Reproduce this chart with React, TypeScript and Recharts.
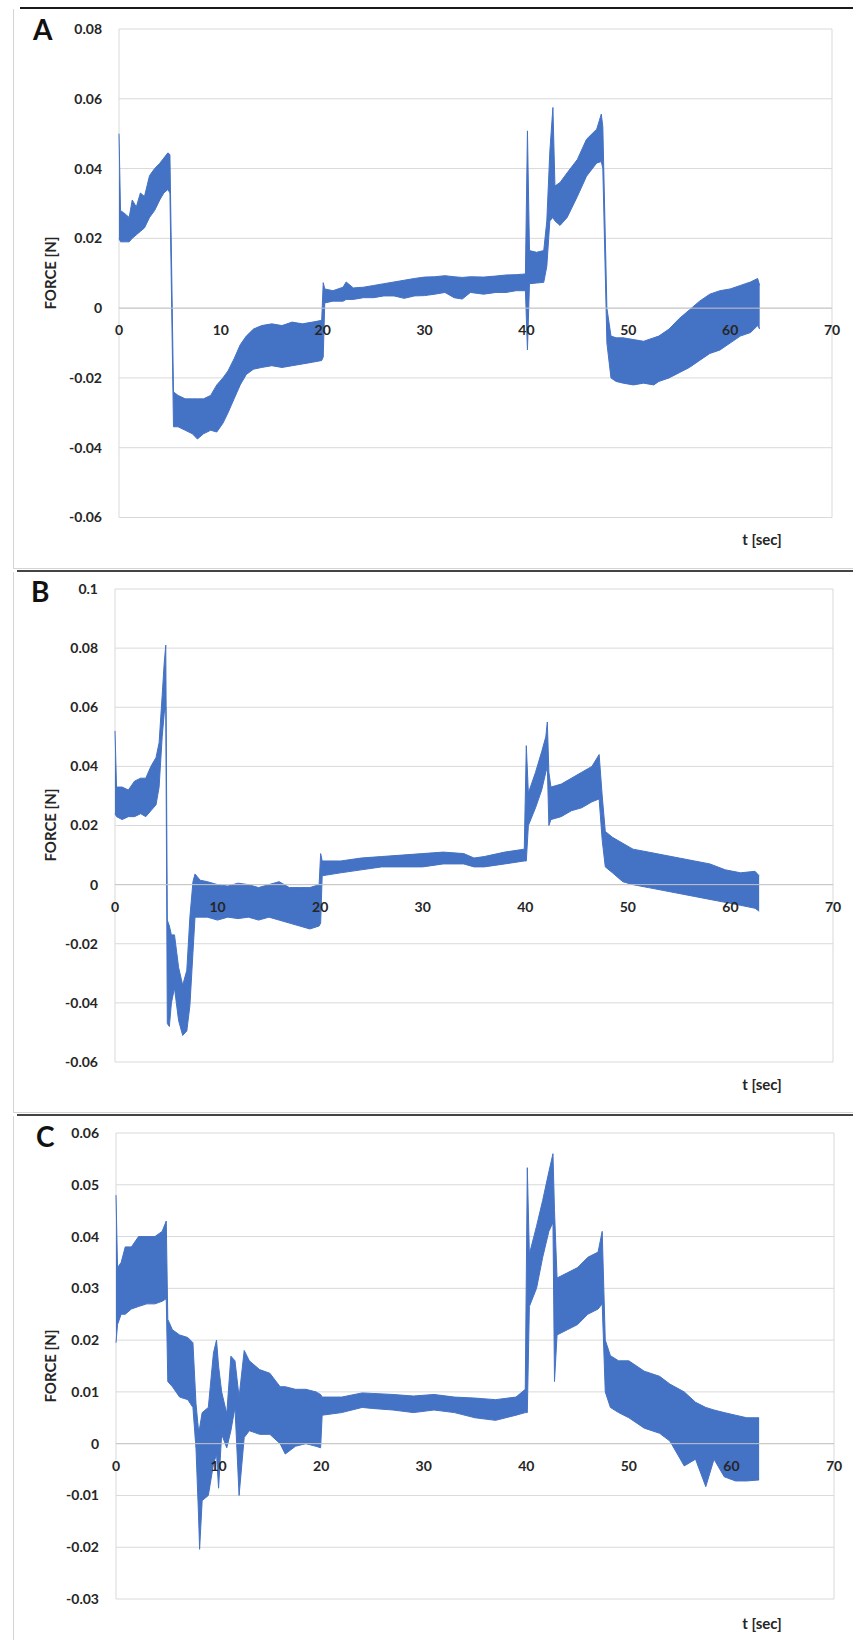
import React from "react";
import {
  ComposedChart,
  Area,
  XAxis,
  YAxis,
  CartesianGrid,
  ReferenceLine,
  ReferenceDot,
} from "recharts";

const BLUE = "#4472C4";
const GRID = "#d9d9d9";
const INK = "#262626";
const FONT = "Lato, 'Open Sans', sans-serif";

const xTicks = [0, 10, 20, 30, 40, 50, 60, 70];

// ---- A: force envelope (low / high edge of the noisy trace) ----
const timeA = [
  0, 0.15, 0.6, 1.0, 1.3, 1.7, 2.1, 2.5, 3.0, 3.5, 4.0, 4.4, 4.8, 5.0, 5.35, 5.8, 6.5, 7.2, 7.7, 8.3, 9.0, 9.6,
  10.2, 10.7, 11.3, 11.9, 12.5, 13.2, 14, 15, 16, 17, 18, 19, 19.9, 20.05, 20.2, 21, 22, 22.3, 23, 24, 25, 26,
  27, 28, 29, 30, 31, 32, 32.9, 33.7, 34.5, 35.8, 37, 38, 39, 39.9, 40.1, 40.3, 41, 41.7, 42.0, 42.3, 42.6,
  42.8, 43.3, 44.0, 45.0, 45.9, 46.9, 47.35, 47.5, 47.9, 48.3, 48.8, 49.5, 50.5, 51.5, 52.5, 53, 54, 55, 56,
  57, 58, 59, 60, 61, 62, 62.7, 62.9,
];
const lowA = [
  0.02, 0.019, 0.019, 0.019, 0.02, 0.021, 0.022, 0.023, 0.026, 0.028, 0.031, 0.033, 0.034, 0.033, -0.034,
  -0.034, -0.035, -0.036, -0.0375, -0.036, -0.035, -0.0355, -0.033, -0.03, -0.026, -0.022, -0.019, -0.0175,
  -0.017, -0.0165, -0.017, -0.0165, -0.016, -0.0155, -0.015, -0.014, 0.0015, 0.002, 0.002, 0.0025, 0.0025,
  0.003, 0.003, 0.0035, 0.0035, 0.0028, 0.0035, 0.0036, 0.004, 0.0045, 0.003, 0.0026, 0.0045, 0.004, 0.0045,
  0.0045, 0.005, 0.005, -0.012, 0.007, 0.0072, 0.0074, 0.012, 0.025, 0.026, 0.025, 0.0237, 0.026, 0.032,
  0.0378, 0.0416, 0.042, 0.04, -0.01, -0.02, -0.021, -0.0215, -0.022, -0.0215, -0.022, -0.021, -0.02,
  -0.0185, -0.017, -0.015, -0.013, -0.012, -0.01, -0.008, -0.007, -0.005, -0.006,
];
const highA = [
  0.05, 0.028, 0.027, 0.026, 0.031, 0.029, 0.033, 0.032, 0.038, 0.04, 0.0415, 0.043, 0.0445, 0.044, -0.024,
  -0.025, -0.026, -0.026, -0.026, -0.026, -0.025, -0.022, -0.02, -0.018, -0.0145, -0.0105, -0.008, -0.006,
  -0.005, -0.0045, -0.005, -0.004, -0.0045, -0.004, -0.0035, 0.0073, 0.0055, 0.005, 0.006, 0.0075, 0.0058,
  0.006, 0.0065, 0.007, 0.0075, 0.008, 0.0085, 0.0089, 0.009, 0.0093, 0.009, 0.0088, 0.009, 0.0089, 0.0092,
  0.0095, 0.0096, 0.0098, 0.0508, 0.0165, 0.016, 0.0165, 0.025, 0.045, 0.0575, 0.035, 0.036, 0.0388, 0.0426,
  0.0484, 0.0513, 0.0556, 0.052, 0.0, -0.008, -0.0085, -0.0085, -0.009, -0.0095, -0.0085, -0.008, -0.006,
  -0.003, -0.0005, 0.002, 0.004, 0.005, 0.0055, 0.0065, 0.0075, 0.0085, 0.0065,
];
const yTicksA = [-0.06, -0.04, -0.02, 0, 0.02, 0.04, 0.06, 0.08];

// ---- B ----
const timeB = [
  0, 0.15, 0.7, 1.3, 1.9, 2.5, 3.0, 3.5, 4.0, 4.3, 4.6, 4.8, 4.95, 5.1, 5.3, 5.5, 5.8, 6.2, 6.6, 7.0, 7.3, 7.6,
  7.8, 8.3, 9, 10, 11, 12, 13, 14, 15, 16, 17, 18, 19, 19.9, 20.05, 20.2, 22, 24, 26, 28, 30, 32, 34, 35, 36,
  38, 39.9, 40.1, 40.3, 41.0, 41.6, 42.0, 42.15, 42.3, 42.5, 43.5, 44.5, 45.5, 46.5, 47.2, 47.5, 47.8, 48.5,
  49.5, 50.5, 52, 53.5, 55, 56.5, 58, 59.5, 61, 62.4, 62.8,
];
const lowB = [
  0.024, 0.023, 0.022, 0.023, 0.023, 0.024, 0.023, 0.025, 0.027, 0.033, 0.05, 0.058, 0.06, -0.047, -0.048,
  -0.04, -0.035, -0.046, -0.051, -0.0495, -0.041, -0.023, -0.011, -0.011, -0.011, -0.012, -0.011, -0.0115,
  -0.011, -0.012, -0.011, -0.012, -0.013, -0.014, -0.015, -0.014, -0.013, 0.003, 0.004, 0.005, 0.006, 0.006,
  0.006, 0.007, 0.007, 0.006, 0.006, 0.007, 0.008, 0.008, 0.02, 0.026, 0.032, 0.038, 0.04, 0.02, 0.022, 0.023,
  0.025, 0.026, 0.028, 0.029, 0.015, 0.006, 0.004, 0.001, 0.0, -0.001, -0.002, -0.003, -0.004, -0.005, -0.006,
  -0.007, -0.008, -0.009,
];
const highB = [
  0.052, 0.033, 0.033, 0.032, 0.035, 0.036, 0.036, 0.04, 0.043, 0.048, 0.064, 0.075, 0.081, -0.012, -0.014,
  -0.017, -0.017, -0.028, -0.034, -0.029, -0.011, 0.001, 0.0036, 0.0015, 0.001, 0.0, -0.0005, 0.0005, 0.0,
  -0.001, 0.0, 0.001, -0.001, -0.001, -0.001, 0.0, 0.0105, 0.008, 0.008, 0.009, 0.0095, 0.01, 0.0105, 0.011,
  0.0105, 0.009, 0.0095, 0.011, 0.012, 0.047, 0.031, 0.038, 0.045, 0.05, 0.055, 0.038, 0.033, 0.034, 0.036,
  0.038, 0.04, 0.044, 0.03, 0.018, 0.016, 0.014, 0.012, 0.011, 0.01, 0.009, 0.008, 0.007, 0.005, 0.004,
  0.0045, 0.003,
];
const yTicksB = [-0.06, -0.04, -0.02, 0, 0.02, 0.04, 0.06, 0.08, 0.1];

// ---- C ----
const timeC = [
  0, 0.15, 0.5, 0.9, 1.5, 2.2, 3.0, 3.8, 4.5, 4.9, 5.05, 5.5, 6.2, 7.0, 7.5, 7.8, 8.05, 8.15, 8.4, 9.0, 9.5,
  9.8, 10.0, 10.3, 10.8, 11.2, 11.6, 12.0, 12.5, 13, 14, 15, 16, 16.5, 17.5, 18.5, 19.5, 19.95, 20.1, 22, 24,
  25, 27, 29, 31, 33, 35, 37, 39, 39.9, 40.1, 40.3, 41.0, 41.6, 42.2, 42.6, 42.75, 43.0, 44, 45, 46, 47.0,
  47.4, 47.7, 48.2, 49, 50, 51.5, 53, 54, 55.4, 56.5, 57.5, 58.3, 59.3, 60.4, 61.5, 62.7,
];
const lowC = [
  0.0195, 0.023, 0.025, 0.025, 0.026, 0.0265, 0.027, 0.027, 0.0275, 0.028, 0.012, 0.011, 0.009, 0.0085,
  0.007, -0.001, -0.014, -0.0204, -0.011, -0.01, -0.004, -0.002, -0.0086, 0.0018, -0.0008, 0.0025, 0.007,
  -0.01, 0.0012, 0.0025, 0.0018, 0.0018, 0.0, -0.002, -0.0005, 0.0, -0.0005, -0.0008, 0.0055, 0.006, 0.007,
  0.0068, 0.0065, 0.006, 0.0065, 0.006, 0.005, 0.0045, 0.0055, 0.006, 0.006, 0.0265, 0.03, 0.036, 0.041,
  0.0427, 0.012, 0.021, 0.022, 0.023, 0.025, 0.026, 0.027, 0.01, 0.007, 0.006, 0.005, 0.003, 0.002, 0.0005,
  -0.0043, -0.003, -0.0083, -0.003, -0.0064, -0.0072, -0.0072, -0.007,
];
const highC = [
  0.048, 0.034, 0.035, 0.038, 0.038, 0.04, 0.04, 0.04, 0.041, 0.043, 0.024, 0.022, 0.021, 0.0205, 0.0195,
  0.0077, 0.0025, 0.003, 0.006, 0.007, 0.0175, 0.02, 0.015, 0.01, 0.0058, 0.0169, 0.016, 0.009, 0.018, 0.016,
  0.0143, 0.0136, 0.011, 0.011, 0.0105, 0.0105, 0.01, 0.0095, 0.009, 0.009, 0.0098, 0.0097, 0.0095, 0.0092,
  0.0095, 0.009, 0.0088, 0.0085, 0.009, 0.0105, 0.0533, 0.0366, 0.042, 0.047, 0.0525, 0.056, 0.045, 0.032,
  0.033, 0.034, 0.036, 0.037, 0.041, 0.02, 0.017, 0.016, 0.016, 0.014, 0.013, 0.0115, 0.01, 0.008, 0.007,
  0.0065, 0.006, 0.0055, 0.005, 0.005,
];
const yTicksC = [-0.03, -0.02, -0.01, 0, 0.01, 0.02, 0.03, 0.04, 0.05, 0.06];

const toRows = (time: number[], low: number[], high: number[]) =>
  time.map((t, i) => ({ t, band: [low[i], high[i]] }));

const tickStyle = { fill: INK, fontSize: 14, fontWeight: 700, fontFamily: FONT };

type PanelProps = {
  rows: { t: number; band: number[] }[];
  yTicks: number[];
  top: number;
  height: number;
  margin: { top: number; right: number; bottom: number; left: number };
  axisWidth: number;
};

function ForcePanel({ rows, yTicks, top, height, margin, axisWidth }: PanelProps) {
  return (
    <div style={{ position: "absolute", left: 0, top }}>
      <ComposedChart width={853} height={height} data={rows} margin={margin}>
        <CartesianGrid stroke={GRID} strokeWidth={1} />
        <XAxis
          type="number"
          dataKey="t"
          domain={[0, 70]}
          ticks={xTicks}
          tick={false}
          tickLine={false}
          axisLine={false}
          height={0}
        />
        <YAxis
          type="number"
          domain={[yTicks[0], yTicks[yTicks.length - 1]]}
          ticks={yTicks}
          width={axisWidth}
          axisLine={false}
          tickLine={false}
          tickSize={0}
          tickMargin={17}
          tick={tickStyle}
          tickFormatter={(v: number) => String(v)}
          allowDataOverflow
        />
        <ReferenceLine y={0} stroke="#c6c6c6" strokeWidth={1} />
        <Area
          type="linear"
          dataKey="band"
          stroke={BLUE}
          strokeWidth={1}
          fill={BLUE}
          fillOpacity={1}
          dot={false}
          activeDot={false}
          isAnimationActive={false}
        />
        {xTicks.map((t) => (
          <ReferenceDot
            key={t}
            x={t}
            y={0}
            r={0}
            fill="none"
            stroke="none"
            label={{ value: String(t), position: "bottom", offset: 17, ...tickStyle }}
          />
        ))}
      </ComposedChart>
    </div>
  );
}

const abs = (s: React.CSSProperties): React.CSSProperties => ({ position: "absolute", ...s });

function PanelFrame({ lineTop, lineLeft, lineColor, bottom }: { lineTop: number; lineLeft: number; lineColor: string; bottom: number }) {
  return (
    <>
      <div style={abs({ left: lineLeft, top: lineTop, width: 853 - lineLeft, height: 2, background: lineColor })} />
      <div style={abs({ left: 13, top: lineTop + 2, width: 1, height: bottom - lineTop - 2, background: "#d4d4d4" })} />
      <div style={abs({ left: 13, top: bottom, width: 840, height: 1, background: "#d4d4d4" })} />
    </>
  );
}

const letterStyle: React.CSSProperties = {
  position: "absolute",
  fontFamily: FONT,
  fontWeight: 700,
  fontSize: 28,
  lineHeight: "28px",
  color: "#111",
};

const yTitle = (cy: number): React.CSSProperties => ({
  position: "absolute",
  left: 50,
  top: cy,
  transform: "translate(-50%, -50%) rotate(-90deg)",
  whiteSpace: "nowrap",
  fontFamily: FONT,
  fontWeight: 700,
  fontSize: 15,
  color: INK,
});

const xTitle = (top: number): React.CSSProperties => ({
  position: "absolute",
  left: 762,
  top,
  transform: "translateX(-50%)",
  whiteSpace: "nowrap",
  fontFamily: FONT,
  fontWeight: 700,
  fontSize: 15,
  lineHeight: "18px",
  color: INK,
});

export default function App() {
  return (
    <div style={{ position: "absolute", left: 0, top: 0, width: 853, height: 1640, background: "#fff", overflow: "hidden" }}>
      <ForcePanel
        rows={toRows(timeA, lowA, highA)}
        yTicks={yTicksA}
        top={0}
        height={568}
        margin={{ top: 29, right: 21, bottom: 50.5, left: 0 }}
        axisWidth={119}
      />
      <ForcePanel
        rows={toRows(timeB, lowB, highB)}
        yTicks={yTicksB}
        top={573}
        height={539}
        margin={{ top: 16, right: 20, bottom: 50, left: 0 }}
        axisWidth={115}
      />
      <ForcePanel
        rows={toRows(timeC, lowC, highC)}
        yTicks={yTicksC}
        top={1117}
        height={523}
        margin={{ top: 16, right: 19, bottom: 41, left: 0 }}
        axisWidth={116}
      />

      <PanelFrame lineTop={7} lineLeft={20} lineColor="#1a1a1a" bottom={568} />
      <PanelFrame lineTop={570} lineLeft={17} lineColor="#444" bottom={1112} />
      <PanelFrame lineTop={1114} lineLeft={17} lineColor="#444" bottom={1660} />

      <div style={{ ...letterStyle, left: 33, top: 15 }}>A</div>
      <div style={{ ...letterStyle, left: 31, top: 577 }}>B</div>
      <div style={{ ...letterStyle, left: 36, top: 1122 }}>C</div>

      <div style={yTitle(273)}>FORCE [N]</div>
      <div style={yTitle(825)}>FORCE [N]</div>
      <div style={yTitle(1366)}>FORCE [N]</div>

      <div style={xTitle(530)}>t [sec]</div>
      <div style={xTitle(1075)}>t [sec]</div>
      <div style={xTitle(1614)}>t [sec]</div>
    </div>
  );
}
